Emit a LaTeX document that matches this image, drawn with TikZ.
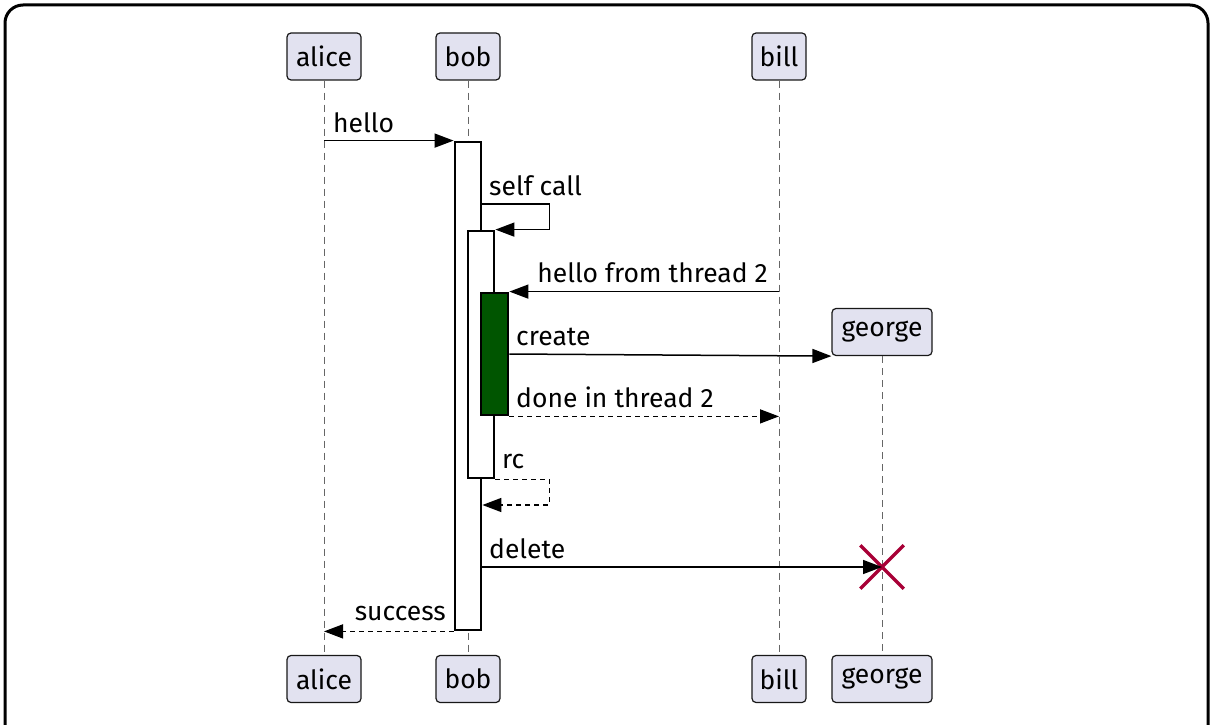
\documentclass[tikz,border=0pt]{standalone}
\usepackage{fontspec}
\setmainfont{Fira Sans}
\usetikzlibrary{arrows.meta,shapes.misc}

\definecolor{partfill}{HTML}{E2E2F0}
\definecolor{partline}{HTML}{181818}
\definecolor{threadgreen}{HTML}{005500}
\definecolor{killred}{HTML}{A80036}

\tikzset{
  participant/.style={rectangle, rounded corners=4pt,
    draw = partline,
    fill = partfill,
    line width = 1.2pt,
    inner xsep = 3pt,
    minimum height = 47pt,
    font = \fontsize{26.5}{31}\selectfont},
  lifeline/.style={draw = gray!80!black, line width = 1pt, dash pattern = on 7pt off 5pt},
  activation/.style={rectangle, draw = black, fill = white, line width = 2.8pt,
    minimum width = 26pt, inner sep = 0pt},
  msg/.style={line width = 1.5pt, -{Triangle[length=19pt, width=14pt]}},
  reply/.style={msg, dash pattern = on 5pt off 4pt},
  msglabel/.style={inner sep = 0pt, font = \fontsize{26.5}{31}\selectfont},
}

\begin{document}
\begin{tikzpicture}[x=1pt, y=-1pt]
\useasboundingbox (0,0) rectangle (1211,725);

% frame
\draw[line width = 3pt, rounded corners = 18pt] (5,5) rectangle (1208,780);

% participants
\node[participant, minimum width = 74pt] (alice) at (324,56.5) {alice};
\node[participant, minimum width = 64pt] (bob) at (468,56.5) {bob};
\node[participant, minimum width = 54pt] (bill) at (779,56.5) {bill};
\node[participant, minimum width = 100pt] (george) at (882,332) {george};

\node[participant, minimum width = 74pt] (alicebot) at (324,679) {alice};
\node[participant, minimum width = 64pt] (bobbot) at (468,679) {bob};
\node[participant, minimum width = 54pt] (billbot) at (779,679) {bill};
\node[participant, minimum width = 100pt] (georgebot) at (882,679) {george};

% lifelines
\draw[lifeline] (alice) -- (alicebot);
\draw[lifeline] (bob) -- (bobbot);
\draw[lifeline] (bill) -- (billbot);
\draw[lifeline] (george) -- (georgebot);

% activations
\node[activation, minimum height = 488pt] (bobact) at (468,386) {};
\node[activation, minimum height = 247pt] (selfact) at (481,354.5) {};
\node[activation, fill = threadgreen, minimum width = 27pt,
    minimum height = 122pt] (thread) at (494.5,354) {};

% messages
\draw[msg] (alice |- bobact.north) -- (bobact.north west);
\node[msglabel, anchor = base west] (lhello) at (333,132) {hello};

\draw[msg] (bobact.east |- 0,204) -- ++(67,0) |- (selfact.north east);
\node[msglabel, anchor = base west] (lself) at (489,195) {self call};

\draw[msg] (bill |- thread.north) -- (thread.north east);
\node[msglabel, anchor = base east] (lthread) at (768,282) {hello from thread 2};

\draw[msg] (thread.east |- 0,354) -- (george.south west);
\node[msglabel, anchor = base west] (lcreate) at (516,345) {create};

\draw[reply] (thread.south east) -- (bill |- thread.south);
\node[msglabel, anchor = base west] (ldone) at (516,407) {done in thread 2};

\draw[reply] (selfact.south east) -- ++(54,0) |- (bobact.east |- 0,505);
\node[msglabel, anchor = base west] (lrc) at (502,468) {rc};

\node[cross out, draw = killred, line width = 3.5pt, minimum size = 40pt,
    inner sep = 0pt] (kill) at (882,567) {};
\draw[msg] (bobact.east |- kill) -- (kill.center);
\node[msglabel, anchor = base west] (ldelete) at (489,558) {delete};

\draw[reply] (bobact.south west) -- (alice |- bobact.south);
\node[msglabel, anchor = base east] (lsuccess) at (446,620) {success};
\end{tikzpicture}
\end{document}
